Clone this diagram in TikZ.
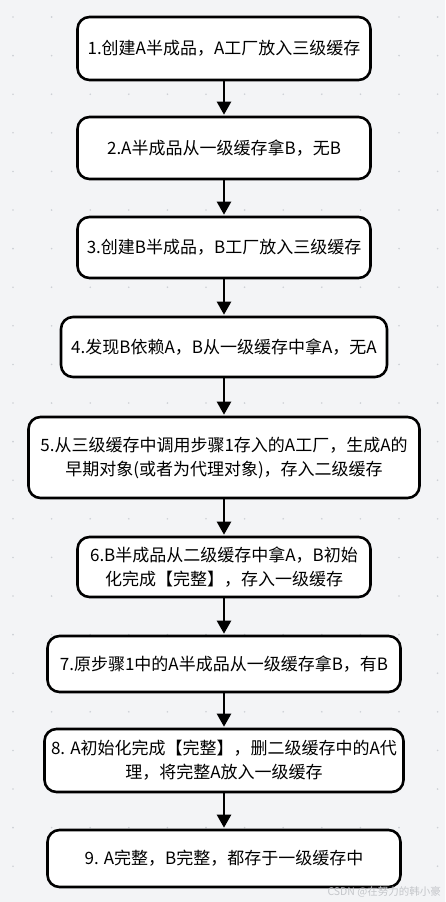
\documentclass[tikz,border=0pt]{standalone}
\usepackage{fontspec}
\setmainfont{Noto Sans CJK SC}
\usetikzlibrary{arrows.meta}
\definecolor{canvas}{HTML}{F3F4F6}
\definecolor{dotgray}{HTML}{CDD0D5}
\definecolor{wmgray}{HTML}{C4C6CA}
\begin{document}
\begin{tikzpicture}
   [x=1pt,y=-1pt,
    stepbox/.style={draw=black,line width=2.6pt,rounded corners=12pt,fill=white,
      align=center,inner sep=0pt,font=\fontsize{17}{24}\selectfont},
    flow/.style={-{Triangle[width=14pt,length=13pt]},line width=2.4pt,shorten >=1pt}]
  \useasboundingbox (0,0) rectangle (445,902);
  \fill[canvas] (0,0) rectangle (445,902);
  \foreach \i in {0,...,11}
    \foreach \j in {0,...,23}
      \fill[dotgray] (13+38.6*\i,17+38.6*\j) circle (0.9pt);

  \node[stepbox,minimum width=293pt,minimum height=63pt] (s1) at (224,48.5) {1.创建A半成品，A工厂放入三级缓存};
  \node[stepbox,minimum width=293pt,minimum height=62pt] (s2) at (224,148) {2.A半成品从一级缓存拿B，无B};
  \node[stepbox,minimum width=293pt,minimum height=61pt] (s3) at (224,247.5) {3.创建B半成品，B工厂放入三级缓存};
  \node[stepbox,minimum width=326pt,minimum height=60pt] (s4) at (224,347) {4.发现B依赖A，B从一级缓存中拿A，无A};
  \node[stepbox,minimum width=391pt,minimum height=81pt] (s5) at (224,457.5) {5.从三级缓存中调用步骤1存入的A工厂，生成A的\\早期对象(或者为代理对象)，存入二级缓存};
  \node[stepbox,minimum width=293pt,minimum height=60pt] (s6) at (224,567) {6.B半成品从二级缓存中拿A，B初始\\化完成【完整】，存入一级缓存};
  \node[stepbox,minimum width=353pt,minimum height=56pt] (s7) at (224,664) {7.原步骤1中的A半成品从一级缓存拿B，有B};
  \node[stepbox,minimum width=359pt,minimum height=63pt] (s8) at (224,760.5) {8. A初始化完成【完整】，删二级缓存中的A代\\理，将完整A放入一级缓存};
  \node[stepbox,minimum width=353pt,minimum height=57pt] (s9) at (224,858.5) {9. A完整，B完整，都存于一级缓存中};

  \foreach \from/\to in {s1/s2, s2/s3, s3/s4, s4/s5, s5/s6, s6/s7, s7/s8, s8/s9}
    \draw[flow] (\from) -- (\to);

  \node[anchor=base east,inner sep=0pt,text=wmgray,font=\fontsize{10.5}{11}\selectfont] (wm) at (441,895) {CSDN @在努力的韩小豪};
\end{tikzpicture}
\end{document}
